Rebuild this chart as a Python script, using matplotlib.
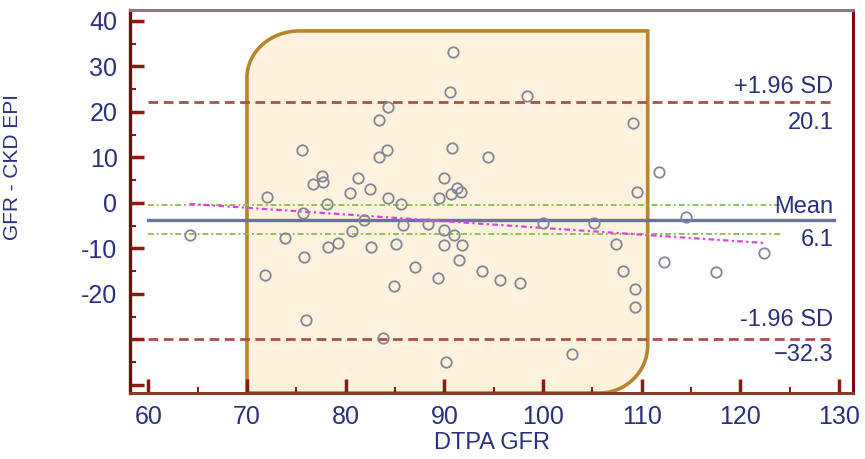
import matplotlib
matplotlib.use("Agg")
import matplotlib.pyplot as plt
import numpy as np
from matplotlib.path import Path
from matplotlib.patches import PathPatch
from matplotlib.ticker import MultipleLocator, FixedLocator

plt.rcParams['font.family'] = ['Liberation Sans', 'DejaVu Sans']

# ---- data ----
dtpa_gfr = [90.9, 90.6, 98.4, 84.3, 83.4, 75.6, 84.2, 83.4, 77.6, 77.7, 76.7, 81.2,
            82.5, 80.4, 72.0, 84.3, 85.6, 78.1, 109.1, 90.8, 94.4, 90.0, 91.3, 91.7,
            90.7, 89.5, 109.5, 75.7, 81.9, 100.0, 85.8, 88.3, 90.0, 91.0, 73.9, 80.6,
            78.2, 79.2, 82.6, 85.1, 90.0, 91.8, 75.8, 91.5, 87.0, 93.8, 89.4, 95.6,
            97.7, 84.9, 76.0, 83.8, 90.2, 102.9, 64.2, 71.8, 105.2, 107.4, 108.1,
            109.3, 109.3, 112.3, 117.5, 122.4, 111.7, 114.5]
diff = [33.2, 24.4, 23.5, 21.1, 18.2, 11.6, 11.6, 10.1, 5.9, 4.6, 4.2, 5.5,
        3.1, 2.2, 1.3, 1.1, -0.2, -0.2, 17.6, 12.1, 10.1, 5.5, 3.3, 2.4,
        2.0, 1.1, 2.4, -2.2, -3.7, -4.4, -4.8, -4.6, -5.9, -7.0, -7.7, -6.2,
        -9.7, -8.8, -9.7, -9.0, -9.2, -9.2, -11.9, -12.5, -14.1, -14.9, -16.5, -16.9,
        -17.6, -18.2, -25.7, -29.7, -35.0, -33.2, -7.0, -15.8, -4.4, -9.0, -14.9,
        -18.9, -22.9, -13.0, -15.2, -11.0, 6.8, -3.1]

upper_loa = 22.2
lower_loa = -29.9
mean_line = -3.7
mean_ci = [-0.4, -6.8]
line_x = [60.0, 129.5]
reg_x = [64.2, 122.4]
reg_y = [-0.2, -8.8]

box_x = [70.0, 110.6]
box_top = 37.8

xticks = [60, 70, 80, 90, 100, 110, 120, 130]
yticks = [-40, -30, -20, -10, 0, 10, 20, 30, 40]
ytick_labels = ['', '', '-20', '-10', '0', '10', '20', '30', '40']

right_labels = [("+1.96 SD", 25.5), ("20.1", 17.6), ("Mean", -0.9),
                ("6.1", -8.1), ("-1.96 SD", -25.7), ("\u221232.3", -33.4)]

# ---- figure ----
navy = '#2b2f80'
fig = plt.figure(figsize=(8.65, 4.59), dpi=100)
ax = fig.add_axes([130/865, 1-393/459, (853-130)/865, (393-10)/459])
xlim = (58.15, 131.4)
ylim = (-41.76, 42.4)
ax.set_xlim(*xlim)
ax.set_ylim(*ylim)

# rounded box
x0, x1 = box_x
y0, y1 = ylim[0], box_top
k = 0.5523
rtx, rty = 5.3, 10.3
rbx, rby = 4.9, 10.5
verts = [(x0, y0), (x0, y1 - rty),
         (x0, y1 - rty + k*rty), (x0 + rtx - k*rtx, y1), (x0 + rtx, y1),
         (x1, y1), (x1, y0 + rby),
         (x1, y0 + rby - k*rby), (x1 - rbx + k*rbx, y0), (x1 - rbx, y0),
         (x0, y0), (x0, y0)]
codes = [Path.MOVETO, Path.LINETO,
         Path.CURVE4, Path.CURVE4, Path.CURVE4,
         Path.LINETO, Path.LINETO,
         Path.CURVE4, Path.CURVE4, Path.CURVE4,
         Path.LINETO, Path.CLOSEPOLY]
ax.add_patch(PathPatch(Path(verts, codes), facecolor='#fdf3dc', edgecolor='#b8842e',
                       linewidth=2.6, zorder=1, clip_on=False))

# lines
ax.plot(line_x, [upper_loa]*2, color='#a5524c', lw=2, ls=(0, (3.5, 2)), zorder=3)
ax.plot(line_x, [lower_loa]*2, color='#a5524c', lw=2, ls=(0, (3.5, 2)), zorder=3)
ax.plot(line_x, [mean_line]*2, color='#6a6fb2', lw=2.4, zorder=3)
for v in mean_ci:
    ax.plot([60.0, 124.0], [v]*2, color='#8fbf5a', lw=1.4, ls=(0, (3, 1.5, 1, 1.5)), zorder=3)
ax.plot(reg_x, reg_y, color='#e040e0', lw=1.6, ls=(0, (2.5, 1.5, 1, 1.5)), zorder=3)

# points
ax.plot(dtpa_gfr, diff, ls='none', marker='o', ms=7.5, mfc='none', mec='#85859a',
        mew=1.3, zorder=4)

# right labels
for txt, yv in right_labels:
    ax.text(129.4, yv, txt, ha='right', va='center', fontsize=17, color=navy, zorder=5)

# spines
ax.spines['left'].set_color('#7a0a0a')
ax.spines['left'].set_linewidth(2.4)
ax.spines['bottom'].set_color('#8b3a2a')
ax.spines['bottom'].set_linewidth(2.2)
ax.spines['top'].set_color('#8c7888')
ax.spines['top'].set_linewidth(2.2)
ax.spines['right'].set_color('#7a0a0a')
ax.spines['right'].set_linewidth(2.2)

# ticks
ax.xaxis.set_major_locator(FixedLocator(xticks))
ax.xaxis.set_minor_locator(MultipleLocator(5))
ax.yaxis.set_major_locator(FixedLocator(yticks))
ax.yaxis.set_minor_locator(MultipleLocator(5))
ax.set_yticklabels(ytick_labels)
ax.tick_params(which='major', direction='in', length=10, width=2.5, color='#8b1a10',
               labelsize=18, labelcolor=navy, pad=9)
ax.tick_params(which='minor', direction='in', length=4, width=1.5, color='#8b1a10')
ax.tick_params(top=False, right=False, which='both')

ax.set_xlabel('DTPA GFR', fontsize=17, color=navy, labelpad=2)
ax.set_ylabel('GFR - CKD EPI', fontsize=15, color=navy)
ax.yaxis.set_label_coords(-0.15, 0.59)

fig.savefig('out.png', dpi=100)
